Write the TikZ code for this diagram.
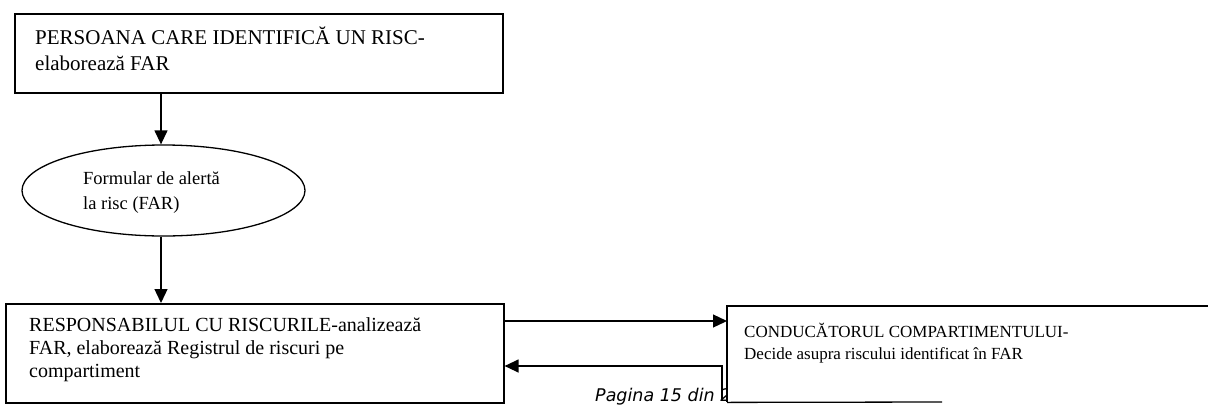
\documentclass[tikz,border=0pt]{standalone}
\usepackage{fontspec}
\setmainfont{Liberation Serif}
\newfontfamily\footfont{DejaVu Sans}
\usetikzlibrary{shapes.geometric,arrows.meta}
\tikzset{
  boxline/.style={line width=1.6pt},
  conn/.style={line width=1.3pt,-{Triangle[length=14pt,width=13pt]}},
  txt/.style={anchor=base west,inner sep=0pt},
}
\begin{document}
\begin{tikzpicture}[x=1pt,y=-1pt]
\useasboundingbox (0,0) rectangle (1208,405);
% footer text (partly covered by right box)
\node[anchor=base west,inner sep=0pt,font=\footfont\itshape\fontsize{17.5}{20}\selectfont] (foot) at (595,401) {Pagina 15 din 2};

% top box
\node[draw,boxline,anchor=north west,minimum width=488pt,minimum height=79pt,inner sep=0pt] (top) at (14,13) {};
\begin{scope}[every node/.append style={font=\fontsize{21}{24}\selectfont}]
\node[txt] (t1) at (35,44) {PERSOANA CARE IDENTIFICĂ UN RISC-};
\node[txt] (t2) at (35,70) {elaborează FAR};
\end{scope}

% ellipse
\node[draw,ellipse,line width=1.3pt,minimum width=283pt,minimum height=91pt,inner sep=0pt] (far) at (163.5,190.5) {};
\begin{scope}[every node/.append style={font=\fontsize{18.5}{22}\selectfont}]
\node[txt] (e1) at (83,184) {Formular de alertă};
\node[txt] (e2) at (83,209) {la risc (FAR)};
\end{scope}

% bottom-left box
\node[draw,boxline,anchor=north west,minimum width=498pt,minimum height=99pt,inner sep=0pt] (resp) at (5,303) {};
\begin{scope}[every node/.append style={font=\fontsize{20}{23}\selectfont}]
\node[txt] (r1) at (29,331) {RESPONSABILUL CU RISCURILE-analizează};
\node[txt] (r2) at (29,354) {FAR, elaborează Registrul de riscuri pe};
\node[txt] (r3) at (29,377) {compartiment};
\end{scope}

% right box (white, covers footer)
\node[fill=white,anchor=north west,minimum width=490pt,minimum height=96pt,inner sep=0pt] (cond) at (727,306) {};
\draw[boxline] (cond.north east) -- (cond.north west) -- (cond.south west);
\coordinate (footend) at (942,402);
\draw[line width=1.3pt] (cond.south west) -- (footend);
\begin{scope}[every node/.append style={font=\fontsize{17}{20}\selectfont}]
\node[txt] (c1) at (744,337) {CONDUCĂTORUL COMPARTIMENTULUI-};
\node[txt] (c2) at (744,359) {Decide asupra riscului identificat în FAR};
\end{scope}

% connectors
\draw[conn] (top.south -| 161,0) -- (far.north -| 161,0);
\draw[conn] (far.south -| 161,0) -- (resp.north -| 161,0);
\coordinate (rs) at (503,321);
\draw[conn] (rs) -- (rs -| cond.west);
\coordinate (back0) at (722,399);
\coordinate (back1) at (722,366);
\draw[conn] (back0) -- (back1) -- (back1 -| resp.east);
\end{tikzpicture}
\end{document}
